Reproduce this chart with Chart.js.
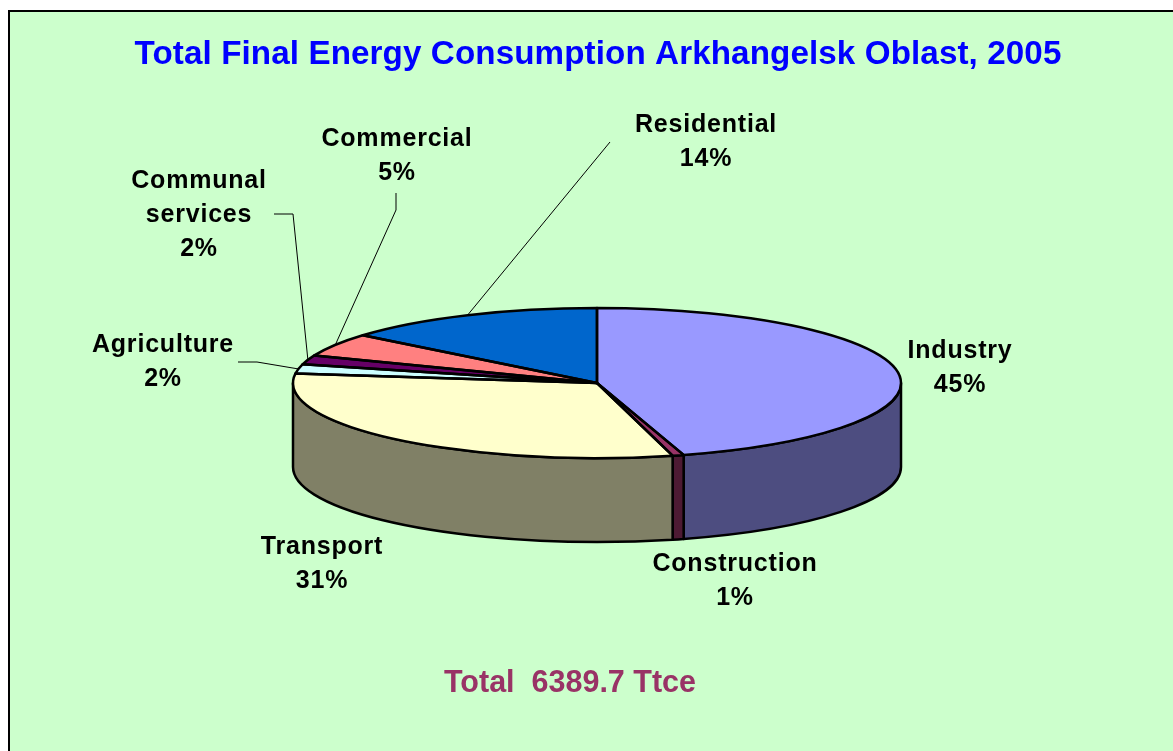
<!DOCTYPE html>
<html>
<head>
<meta charset="utf-8">
<script src="https://cdn.jsdelivr.net/npm/chart.js@4.4.0/dist/chart.umd.min.js"></script>
<style>
  html, body { margin: 0; padding: 0; background: #fff; overflow: hidden; }
  #frame {
    position: absolute; left: 8px; top: 10px; width: 1200px; height: 800px;
    background: #ccffcc; border-left: 2px solid #000; border-top: 2px solid #000;
  }
  #wrap { position: absolute; left: 0; top: 0; width: 1173px; height: 751px; }
</style>
</head>
<body>
<div id="frame"></div>
<div id="wrap"><canvas id="chart" width="1173" height="751"></canvas></div>
<script>
// Data (shares of total final energy consumption, %)
const categories = ['Industry', 'Construction', 'Transport', 'Agriculture', 'Communal services', 'Commercial', 'Residential'];
const shares = [45.4, 0.6, 31, 2, 2, 5, 14];
const chartTitle = 'Total Final Energy Consumption Arkhangelsk Oblast, 2005';
const totalLabel = 'Total  6389.7 Ttce';

// Excel-style 3D pie colours: top faces and darker side walls
const topColors = ['#9999ff', '#993366', '#ffffcc', '#ccffff', '#660066', '#ff8080', '#0066cc'];
const sideColors = ['#4d4d80', '#4d1a33', '#808066', '#668080', '#330033', '#804040', '#003366'];

// where the data labels sit (baseline of first line) and their leader elbows
const labelLayout = [
    { x: 960, y: 358 },
    { x: 735, y: 571 },
    { x: 322, y: 554 },
    { x: 163, y: 352, leader: [[238, 362], [257, 362]] },
    { x: 199, y: 188, wrap: true, leader: [[274, 214], [293, 214]] },
    { x: 397, y: 146, leader: [[396, 193], [396, 210]] },
    { x: 706, y: 132, leader: [[610, 142]] },
];

const FONT = '"Liberation Sans", Arial, sans-serif';

/**
 * Fakes the Excel 3D pie: draws the side walls from the arc angles,
 * squashes the library's pie vertically, then outlines + labels it.
 */
const pie3d = {
    id: 'pie3d',
    _geom(chart, opts) {
        const arcs = chart.getDatasetMeta(0).data;
        const { x, y, outerRadius } = arcs[0].getProps(['x', 'y', 'outerRadius'], true);
        return { arcs, cx: x, cy: y, r: outerRadius, ry: outerRadius * opts.tilt };
    },
    beforeDatasetsDraw(chart, args, opts) {
        const ctx = chart.ctx;
        const { arcs, cx, cy, r, ry } = this._geom(chart, opts);

        // visible side walls (front half: canvas angles 0..PI)
        arcs.forEach((arc, i) => {
            const a = Math.max(arc.startAngle, 0);
            const b = Math.min(arc.endAngle, Math.PI);
            if (b <= a) return;
            ctx.beginPath();
            ctx.ellipse(cx, cy, r, ry, 0, a, b);
            ctx.ellipse(cx, cy + opts.depth, r, ry, 0, b, a, true);
            ctx.closePath();
            ctx.fillStyle = sideColors[i];
            ctx.fill();
            ctx.lineWidth = 2.5;
            ctx.lineJoin = 'round';
            ctx.strokeStyle = '#000';
            ctx.stroke();
        });

        ctx.save();
        ctx.translate(0, cy);
        ctx.scale(1, opts.tilt);
        ctx.translate(0, -cy);
    },
    afterDatasetsDraw(chart, args, opts) {
        const ctx = chart.ctx;
        ctx.restore();
        const { arcs, cx, cy, r, ry } = this._geom(chart, opts);

        // top face outlines
        ctx.lineWidth = 2.5;
        ctx.lineJoin = 'round';
        ctx.strokeStyle = '#000';
        arcs.forEach(arc => {
            ctx.beginPath();
            ctx.moveTo(cx, cy);
            ctx.ellipse(cx, cy, r, ry, 0, arc.startAngle, arc.endAngle);
            ctx.closePath();
            ctx.stroke();
        });

        // leader lines
        ctx.lineWidth = 1;
        arcs.forEach((arc, i) => {
            const lay = labelLayout[i];
            if (!lay.leader) return;
            const mid = (arc.startAngle + arc.endAngle) / 2;
            ctx.beginPath();
            ctx.moveTo(lay.leader[0][0], lay.leader[0][1]);
            lay.leader.slice(1).forEach(p => ctx.lineTo(p[0], p[1]));
            ctx.lineTo(cx + r * Math.cos(mid), cy + ry * Math.sin(mid));
            ctx.stroke();
        });

        // data labels
        const total = shares.reduce((s, v) => s + v, 0);
        ctx.fillStyle = '#000';
        ctx.font = 'bold 25px ' + FONT;
        ctx.textAlign = 'center';
        ctx.textBaseline = 'alphabetic';
        ctx.letterSpacing = '0.8px';
        categories.forEach((name, i) => {
            const lay = labelLayout[i];
            const lines = lay.wrap ? name.split(' ') : [name];
            lines.push(Math.round(shares[i] / total * 100) + '%');
            lines.forEach((t, k) => ctx.fillText(t, lay.x, lay.y + k * 34));
        });

        // title + total
        ctx.letterSpacing = '0.1px';
        ctx.font = 'bold 33.2px ' + FONT;
        ctx.fillStyle = '#0000ff';
        ctx.fillText(chartTitle, 598, 64);
        ctx.letterSpacing = '0px';
        ctx.font = 'bold 30.5px ' + FONT;
        ctx.fillStyle = '#993366';
        ctx.fillText(totalLabel, 570, 692);
    }
};

new Chart(document.getElementById('chart'), {
    type: 'pie',
    data: {
        labels: categories,
        datasets: [{
            data: shares,
            backgroundColor: topColors,
            borderWidth: 0,
            hoverOffset: 0,
            offset: 0,
            clip: false,
        }]
    },
    options: {
        responsive: false,
        animation: false,
        events: [],
        layout: { padding: { top: 79, bottom: 64, left: 293, right: 272 } },
        plugins: {
            legend: { display: false },
            tooltip: { enabled: false },
            title: { display: false },
            pie3d: { tilt: 75 / 304, depth: 84 },
        }
    },
    plugins: [pie3d]
});
</script>
</body>
</html>
